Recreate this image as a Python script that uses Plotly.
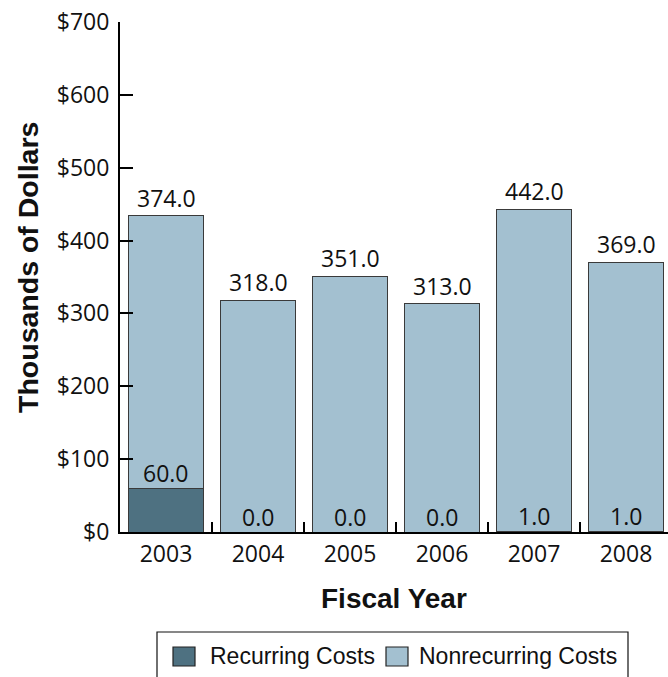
import plotly.graph_objects as go

# Fiscal years and costs (thousands of dollars)
years = ["2003", "2004", "2005", "2006", "2007", "2008"]
recurring = [60.0, 0.0, 0.0, 0.0, 1.0, 1.0]
nonrecurring = [374.0, 318.0, 351.0, 313.0, 442.0, 369.0]
y_ticks = [0, 100, 200, 300, 400, 500, 600, 700]
y_tick_labels = ["$0", "$100", "$200", "$300", "$400", "$500", "$600", "$700"]

series_names = ["Recurring Costs", "Nonrecurring Costs"]
dark_color = "#4e7181"
light_color = "#a3c0d0"
outline = "#3a3a3a"

W, H = 668, 677
L, T, B = 120, 22, 145
plot_h = H - T - B
plot_w = W - L

label_font = dict(family="Open Sans", size=23, color="#111111")
legend_font = dict(family="Liberation Sans", size=23, color="#111111")

fig = go.Figure()
fig.add_trace(go.Bar(
    x=years, y=recurring, name=series_names[0],
    marker=dict(color=dark_color, line=dict(color=outline, width=1)),
    width=0.815, showlegend=False,
))
fig.add_trace(go.Bar(
    x=years, y=nonrecurring, name=series_names[1],
    marker=dict(color=light_color, line=dict(color=outline, width=1)),
    width=0.815, showlegend=False,
))

annotations = []
# value labels: recurring just above its segment, nonrecurring above the stack
for i, (r, n) in enumerate(zip(recurring, nonrecurring)):
    annotations.append(dict(
        x=i, y=r, xref="x", yref="y", text=f"{r:.1f}", showarrow=False,
        yanchor="middle", yshift=15, font=label_font,
    ))
    annotations.append(dict(
        x=i, y=r + n, xref="x", yref="y", text=f"{n:.1f}", showarrow=False,
        yanchor="middle", yshift=18, font=label_font,
    ))


def px_x(p):
    return (p - L) / plot_w


def px_y(p):
    return (H - B - p) / plot_h


# axis titles
annotations.append(dict(
    x=px_x(28), y=px_y(268), xref="paper", yref="paper", text="<b>Thousands of Dollars</b>",
    textangle=-90, showarrow=False, xanchor="center", yanchor="middle",
    font=dict(family="Liberation Sans", size=28.5, color="#111111"),
))
annotations.append(dict(
    x=px_x(394), y=px_y(598), xref="paper", yref="paper", text="<b>Fiscal Year</b>",
    showarrow=False, xanchor="center", yanchor="middle",
    font=dict(family="Liberation Sans", size=28, color="#111111"),
))

# legend box with swatches
shapes = [
    dict(type="rect", xref="paper", yref="paper",
         x0=px_x(157), x1=px_x(628), y0=px_y(700), y1=px_y(632),
         line=dict(color="#111111", width=1.2), fillcolor="white", layer="above"),
]
legend_items = [(173, 208, dark_color, series_names[0]), (386, 417, light_color, series_names[1])]
for sx, tx, col, name in legend_items:
    shapes.append(dict(type="rect", xref="paper", yref="paper",
                       x0=px_x(sx), x1=px_x(sx + 22), y0=px_y(666), y1=px_y(647),
                       line=dict(color="#222222", width=1.2), fillcolor=col, layer="above"))
    annotations.append(dict(x=px_x(tx), y=px_y(656), xref="paper", yref="paper",
                            text=name, showarrow=False, xanchor="left", yanchor="middle",
                            font=legend_font))

fig.update_layout(
    width=W, height=H,
    margin=dict(l=L, r=0, t=T, b=B, pad=0),
    barmode="stack",
    plot_bgcolor="white", paper_bgcolor="white",
    annotations=annotations, shapes=shapes,
    xaxis=dict(
        type="category", range=[-0.5, 5.5 - 4 / 92],
        showline=True, linecolor="black", linewidth=2,
        ticks="inside", tickson="boundaries", ticklen=10, tickwidth=2, tickcolor="black",
        tickfont=label_font, showgrid=False, zeroline=False,
    ),
    yaxis=dict(
        range=[0, 700], tickvals=y_ticks, ticktext=y_tick_labels,
        showline=True, linecolor="black", linewidth=2,
        ticks="inside", ticklen=13, tickwidth=2, tickcolor="black",
        tickfont=label_font, showgrid=False, zeroline=False,
        ticklabelstandoff=4,
    ),
)

fig.write_html("out.html")
